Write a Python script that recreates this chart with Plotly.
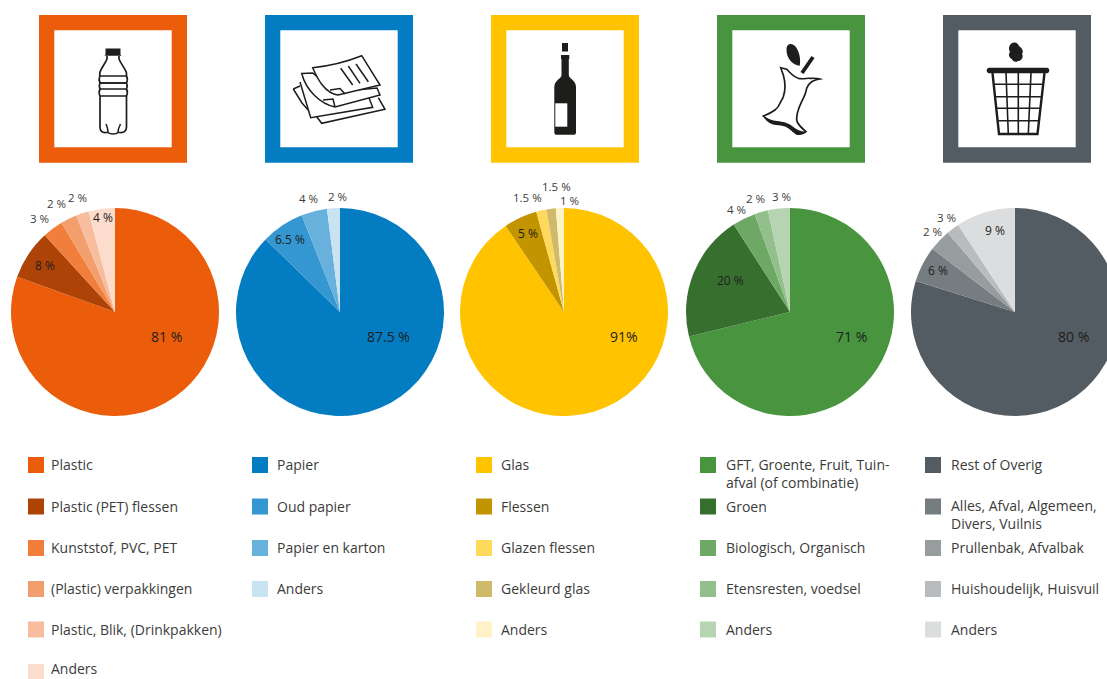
import re
import plotly.graph_objects as go

# ---------- data ----------
# *_values: the wedge shares as measured on the picture; *_printed: the figures printed beside the wedges
plastic_labels = ["Plastic", "Plastic (PET) flessen", "Kunststof, PVC, PET", "(Plastic) verpakkingen", "Plastic, Blik, (Drinkpakken)", "Anders"]
plastic_values = [80.5, 7.7, 3.2, 2.5, 2, 4.1]
plastic_printed = ["81 %", "8 %", "3 %", "2 %", "2 %", "4 %"]
plastic_colors = ["#EC5D0B", "#AE4307", "#F17E3B", "#F39F6D", "#F7BD9E", "#FBDCCD"]

papier_labels = ["Papier", "Oud papier", "Papier en karton", "Anders"]
papier_values = [87.3, 6.7, 4, 2]
papier_printed = ["87.5 %", "6.5 %", "4 %", "2 %"]
papier_colors = ["#047CC1", "#3597D1", "#67B1DC", "#C9E3F2"]

glas_labels = ["Glas", "Flessen", "Glazen flessen", "Gekleurd glas", "Anders"]
glas_values = [90.5, 5.2, 1.6, 1.45, 1.25]
glas_printed = ["91%", "5 %", "1.5 %", "1.5 %", "1 %"]
glas_colors = ["#FFC300", "#C19400", "#FFD95C", "#CFB96A", "#FFF2C6"]

gft_labels = ["GFT, Groente, Fruit, Tuin-<br>afval (of combinatie)", "Groen", "Biologisch, Organisch", "Etensresten, voedsel", "Anders"]
gft_values = [71.2, 19.7, 3.6, 2.1, 3.4]
gft_printed = ["71 %", "20 %", "4 %", "2 %", "3 %"]
gft_colors = ["#49953F", "#376F2F", "#6DA965", "#92BF8C", "#B6D4B2"]

rest_labels = ["Rest of Overig", "Alles, Afval, Algemeen,<br>Divers, Vuilnis", "Prullenbak, Afvalbak", "Huishoudelijk, Huisvuil", "Anders"]
rest_values = [79.8, 5.6, 3.4, 2, 9.2]
rest_printed = ["80 %", "6 %", "2 %", "3 %", "9 %"]
rest_colors = ["#535C62", "#757D81", "#979C9F", "#B9BCBE", "#DCDDDE"]

# ---------- layout constants (pixels) ----------
W, H = 1125, 679
FONT = "Open Sans"
TEXT = "#3C3C3B"
DARK = "#1D1D1B"
R = 104
CY = 312
pie_cx = [115, 340, 564, 790, 1015]
frame_x = [39, 265, 491, 717, 943]
legend_x = [28, 252, 476, 700, 925]
legend_text_x = [49, 275, 499, 724, 949]
legend_rows = [465, 506.5, 548, 589, 629.5, 672]
# centre of each printed figure; True = drawn on the wedge
label_pos = [
    [(166, 337, 1), (45, 266, 1), (39, 219, 0), (56, 204, 0), (77, 198, 0), (103, 218, 1)],
    [(388, 337, 1), (290, 240, 1), (308, 199, 0), (337, 197, 0)],
    [(624, 337, 1), (528, 234, 1), (527, 198, 0), (556, 187, 0), (569, 201, 0)],
    [(851, 337, 1), (730, 281, 1), (736, 210, 0), (755, 199, 0), (781, 197, 0)],
    [(1073, 337, 1), (938, 271, 1), (932, 232, 0), (946, 218, 0), (995, 231, 1)],
]

groups = [
    (plastic_labels, plastic_values, plastic_colors, plastic_printed),
    (papier_labels, papier_values, papier_colors, papier_printed),
    (glas_labels, glas_values, glas_colors, glas_printed),
    (gft_labels, gft_values, gft_colors, gft_printed),
    (rest_labels, rest_values, rest_colors, rest_printed),
]


def px(x):
    return x / W


def py(y):
    return 1 - y / H


def path(d):
    """Convert a pixel-space SVG path into paper coordinates."""
    out = []
    is_x = True
    for t in re.findall(r"[MLCQZ]|-?\d+\.?\d*", d):
        if t in "MLCQZ":
            out.append(t)
            is_x = True
        else:
            v = float(t)
            out.append(f"{px(v):.5f}" if is_x else f"{py(v):.5f}")
            is_x = not is_x
    return " ".join(out)


INK = "#1D1D1B"
shapes = []


def rect(x0, y0, x1, y1, fill):
    shapes.append(dict(type="rect", xref="paper", yref="paper", x0=px(x0), x1=px(x1), y0=py(y1), y1=py(y0),
                       fillcolor=fill, line=dict(width=0)))


def stroke(d, width=1.6, fill="rgba(0,0,0,0)", color=INK):
    shapes.append(dict(type="path", xref="paper", yref="paper", path=path(d), fillcolor=fill,
                       line=dict(color=color, width=width)))


def solid(d, fill=INK):
    shapes.append(dict(type="path", xref="paper", yref="paper", path=path(d), fillcolor=fill, line=dict(width=0)))


# frames
for fx, g in zip(frame_x, groups):
    rect(fx, 15, fx + 148, 162.7, g[2][0])
    rect(fx + 15.3, 30.3, fx + 132.7, 147.3, "#FFFFFF")

# --- bottle icon ---
solid("M 105.5 48.5 L 120.5 48.5 L 120.5 54.5 L 121.5 55.8 L 104.5 55.8 L 105.5 54.5 Z")
stroke("M 107 56 L 107 59 C 105 64 100.5 69 99.8 73 L 99.8 76 C 99 78 99 81 100 83 C 99 85 99 87 100 89 C 99 91 99 94 100 96 "
       "L 100 127 C 100 131 102 133 106 132.5 L 108 132.5 C 110 134.5 116 134.5 118 132.5 L 120 132.5 C 124 133 126.5 131 126.5 127 "
       "L 126.5 96 C 127.5 94 127.5 91 126.5 89 C 127.5 87 127.5 85 126.5 83 C 127.5 81 127.5 78 126.5 76 L 126.5 73 "
       "C 125.5 69 121 64 119 59 L 119 56", 1.7)
stroke("M 100 76 L 126.5 76", 1.5)
stroke("M 100 83 L 126.5 83", 1.9)
stroke("M 100 89 L 126.5 89", 1.5)
stroke("M 100 96 L 126.5 96", 1.5)
stroke("M 106 124 C 107.5 127 108 130 108 132.5", 1.5)
stroke("M 120.5 124 C 119 127 118 130 118 132.5", 1.5)

# --- paper icon ---
stroke("M 316.7 116.7 L 321.7 123.3 L 385 109.3 L 378.3 97.7", 1.5, "#FFFFFF")
stroke("M 293.3 89 L 302 103 L 310 112", 1.5)
stroke("M 293.3 89 L 300 86", 1.5)
stroke("M 300 82 L 310.7 117.7 L 372.7 107.3 L 369 98", 1.5, "#FFFFFF")
stroke("M 301.7 73.5 L 312.7 73 L 335 92 L 377 88 L 380 95 L 335 107 C 320 104 306 90 301.7 73.5 Z", 1.5, "#FFFFFF")
stroke("M 323 100 L 333 99 L 335 107", 1.5)
stroke("M 312.7 67.7 C 328 66 346 62 361.7 55.7 L 380 85 L 338 95 C 325 93 318 80 312.7 67.7 Z", 1.5, "#FFFFFF")
stroke("M 330 90 L 340 88.5 L 345 94", 1.5)
stroke("M 340.7 68.3 L 352.7 85", 1.5)
stroke("M 348.3 66 L 360 83.3", 1.5)
stroke("M 356 64 L 368.3 81.7", 1.5)

# --- wine bottle icon ---
solid("M 562 43 L 568 43 L 568 51.5 L 562 51.5 Z")
solid("M 561 55 L 569.3 55 L 569.3 59 L 568.8 59 L 568.8 75 C 569 79 576 80 576 87 L 576 133 L 575 134.7 L 555.5 134.7 L 554.3 133 "
      "L 554.3 87 C 554.3 80 561.5 79 561.5 75 L 561.5 59 L 561 59 Z")
rect(555.3, 103.3, 567.3, 126.7, "#FFFFFF")

# --- apple core icon ---
solid("M 786.5 49 C 786.5 43.5 791.5 42.5 795 46 C 799 50.5 801 58 799.8 65.7 C 793 65.5 786 58 786.5 49 Z")
stroke("M 802 73 L 813 57", 3.8)
stroke("M 780.7 67.7 L 786.7 69.3 C 790 73 794 77 798.3 78.3 C 803 79.5 807 78 810 78.3 C 813 78.3 817 78 820 79 "
       "C 816 79.8 813.5 80.5 811.7 81.7 C 809 83.5 807.5 85.5 806.7 88.3 C 806 92 805 95 803.3 98.3 C 801.5 102 799.5 106 798.3 110 "
       "C 797 113.5 796.5 117 796.7 120 C 797.5 125 802 128 806 131.7 C 803 134.5 800 134.5 796.7 134 C 792 131 790 127 786.7 125 "
       "C 783 123.5 779 123.5 775 122.7 C 771 121 766 119 763.3 116 C 767 114.5 771 113 775 110 C 777 108.5 779 106 780 103.3 "
       "C 781 101 782.5 99 783.3 96.7 C 784.5 93 785 90 785 86.7 C 785 83 784.5 79 783.3 75 C 782.5 72.5 781.5 70 780.7 67.7 Z",
       1.7, "#FFFFFF")
solid("M 763.3 116 C 768 119 772 120.5 777 121 C 783 122 788 122.5 792 126 C 796 129.5 800 131.5 806 131.7 C 803 135 799 135 796 134 "
      "C 792 131.5 789 128 785 126.5 C 781 125 777 125.5 773 124.5 C 768 122.5 765 120 763.3 116 Z")

# --- waste-bin icon ---
solid("M 1012 43 C 1015 41.5 1018 43 1019 46 C 1022 48 1024 51 1022 54 C 1024 57 1021 61 1018 61 C 1016 63 1012 61 1012 59 "
      "C 1009 58 1008 54 1010 52 C 1008 49 1009 45 1012 43 Z")
solid("M 989 67.7 L 1047 67.7 C 1050 68 1050 73 1047 73.3 L 989 73.3 C 986 73 986 68 989 67.7 Z")
stroke("M 992.5 73 L 999 134 L 1037.5 134 L 1044.5 73", 2.4)
top_x = [1006, 1018.3, 1031]
bot_x = [1008.3, 1018.3, 1028.3]
for a, b in zip(top_x, bot_x):
    stroke(f"M {a} 73 L {b} 134", 1.6)
for y in [84.3, 96.7, 108.3, 120.7]:
    f = (y - 73) / 61
    stroke(f"M {992.5 + 6.5 * f:.2f} {y} L {1044.5 - 7 * f:.2f} {y}", 1.6)

# ---------- pies ----------
fig = go.Figure()
annotations = []
for (labels, values, cols, printed), cx, lx, tx0, pos in zip(groups, pie_cx, legend_x, legend_text_x, label_pos):
    clean = [s.replace("<br>", " ") for s in labels]
    fig.add_trace(go.Pie(labels=clean, values=values, text=printed, sort=False, direction="clockwise", rotation=0,
                         marker=dict(colors=cols, line=dict(width=0)), textinfo="none", showlegend=False,
                         hoverinfo="label+text",
                         domain=dict(x=[px(cx - R), px(cx + R)], y=[py(CY + R), py(CY - R)])))
    for i, (txt, (tx, ty, on_wedge)) in enumerate(zip(printed, pos)):
        size = 14 if i == 0 else (12 if on_wedge else 11.5)
        annotations.append(dict(xref="paper", yref="paper", x=px(tx), y=py(ty - 0.5), text=txt, showarrow=False,
                                xanchor="center", yanchor="middle",
                                font=dict(family=FONT, size=size, color=DARK if on_wedge else TEXT)))
    for name, col, ry in zip(labels, cols, legend_rows):
        rect(lx, ry - 8, lx + 16, ry + 8, col)
        two = "<br>" in name
        ann = dict(xref="paper", yref="paper", x=px(tx0), y=py(ry - 12.5 if two else ry - 0.5), text=name,
                   showarrow=False, align="left", xanchor="left", yanchor="top" if two else "middle",
                   font=dict(family=FONT, size=14, color=TEXT))
        if ry + 12 > H:   # last row sits against the page edge: keep the text box inside the page
            ann.update(yanchor="bottom", y=py(H), borderpad=0, x=px(tx0 + 1))
        annotations.append(ann)

fig.update_layout(width=W, height=H, margin=dict(l=0, r=0, t=0, b=0), autosize=False,
                  paper_bgcolor="#FFFFFF", plot_bgcolor="#FFFFFF", shapes=shapes, annotations=annotations,
                  showlegend=False)

fig.write_html("out.html", config=dict(displayModeBar=False),
               post_script="document.body.style.margin='0';document.documentElement.style.overflow='hidden';document.body.style.overflow='hidden';")
